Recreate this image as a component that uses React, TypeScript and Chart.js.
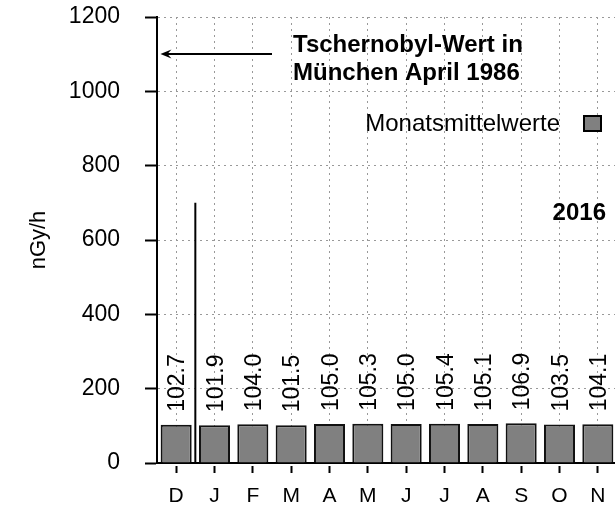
import React, { useEffect, useRef } from "react";
import { Chart, registerables } from "chart.js";

Chart.register(...registerables);

const months = ["D", "J", "F", "M", "A", "M", "J", "J", "A", "S", "O", "N"];
const monthlyMeans = [102.7, 101.9, 104.0, 101.5, 105.0, 105.3, 105.0, 105.4, 105.1, 106.9, 103.5, 104.1];
const yMin = 0;
const yMax = 1200;
const yStep = 200;
const markerIndex = 0.5;
const markerValue = 700;
const chernobylValue = 1100;
const arrowFromIndex = 2.5;
const arrowToIndex = -0.41;
const annotationLines = ["Tschernobyl-Wert in", "München April 1986"];
const legendLabel = "Monatsmittelwerte";
const yearLabel = "2016";
const yTitle = "nGy/h";

const FAMILY = '"Liberation Sans", Arial, Helvetica, sans-serif';
const BAR_FILL = "#808080";

const overlayPlugin = {
  id: "overlay",
  afterDatasetsDraw(chart: any) {
    const ctx = chart.ctx as CanvasRenderingContext2D;
    const xs = chart.scales.x;
    const ys = chart.scales.y;
    ctx.save();
    ctx.fillStyle = "#000";
    // value labels
    ctx.font = `23px ${FAMILY}`;
    const meta = chart.getDatasetMeta(0);
    meta.data.forEach((bar: any, i: number) => {
      ctx.save();
      ctx.translate(bar.x + 8, bar.y - 13);
      ctx.rotate(-Math.PI / 2);
      ctx.textAlign = "left";
      ctx.textBaseline = "alphabetic";
      ctx.fillText(monthlyMeans[i].toFixed(1), 0, 0);
      ctx.restore();
    });
    // vertical marker line
    const mx = xs.getPixelForValue(markerIndex);
    ctx.strokeStyle = "#000";
    ctx.lineWidth = 2;
    ctx.beginPath();
    ctx.moveTo(mx, ys.getPixelForValue(0));
    ctx.lineTo(mx, ys.getPixelForValue(markerValue));
    ctx.stroke();
    // arrow
    const ay = Math.round(ys.getPixelForValue(chernobylValue));
    const ax1 = xs.getPixelForValue(arrowFromIndex);
    const ax2 = xs.getPixelForValue(arrowToIndex);
    ctx.beginPath();
    ctx.moveTo(ax1, ay);
    ctx.lineTo(ax2 + 4, ay);
    ctx.stroke();
    ctx.beginPath();
    ctx.moveTo(ax2, ay);
    ctx.lineTo(ax2 + 11, ay - 4.5);
    ctx.lineTo(ax2 + 7, ay);
    ctx.lineTo(ax2 + 11, ay + 4.5);
    ctx.closePath();
    ctx.fill();
    // annotation text
    ctx.font = `bold 24px ${FAMILY}`;
    ctx.textAlign = "left";
    ctx.textBaseline = "middle";
    annotationLines.forEach((t, i) => ctx.fillText(t, 293, 45 + i * 28));
    // legend
    ctx.font = `24px ${FAMILY}`;
    ctx.textAlign = "right";
    ctx.fillText(legendLabel, 560, 124);
    ctx.fillStyle = BAR_FILL;
    ctx.fillRect(584, 116, 17, 15);
    ctx.strokeStyle = "#000";
    ctx.lineWidth = 2;
    ctx.strokeRect(584, 116, 17, 15);
    // year
    ctx.fillStyle = "#000";
    ctx.font = `bold 24px ${FAMILY}`;
    ctx.textAlign = "right";
    ctx.fillText(yearLabel, 606, 213);
    ctx.restore();
  },
};

export default function App() {
  const ref = useRef<HTMLCanvasElement | null>(null);
  useEffect(() => {
    if (!ref.current) return;
    const chart = new Chart(ref.current, {
      type: "bar",
      data: {
        labels: months,
        datasets: [
          {
            label: legendLabel,
            data: monthlyMeans,
            backgroundColor: BAR_FILL,
            borderColor: "#111",
            borderWidth: 2,
            categoryPercentage: 1,
            barPercentage: 0.81,
          },
        ],
      },
      options: {
        responsive: false,
        animation: false,
        devicePixelRatio: 1,
        layout: { padding: { top: 17, right: 8, left: 0, bottom: 0 } },
        plugins: { legend: { display: false }, tooltip: { enabled: false } },
        scales: {
          x: {
            offset: true,
            ticks: { color: "#000", font: { size: 21, family: FAMILY }, padding: 11, maxRotation: 0, autoSkip: false },
            grid: {
              offset: false,
              color: "#999",
              lineWidth: 1,
              tickLength: 10,
              tickColor: "#000",
              tickWidth: 2,
              tickBorderDash: [0, 2, 10, 100],
            },
            border: { display: true, color: "#000", width: 2, dash: [2, 4] },
            afterFit: (s: any) => {
              s.height = 46;
              s.paddingLeft = 0;
              s.paddingRight = 0;
            },
          },
          y: {
            min: yMin,
            max: yMax,
            ticks: {
              stepSize: yStep,
              color: "#000",
              font: { size: 23, family: FAMILY },
              padding: 25,
              callback: (v: any) => String(v),
            },
            grid: {
              color: "#999",
              lineWidth: 1,
              tickLength: 12,
              tickColor: "#000",
              tickWidth: 2,
              tickBorderDash: [],
            },
            border: { display: true, color: "#000", width: 2, dash: [2, 4] },
            title: {
              display: true,
              text: yTitle,
              color: "#000",
              font: { size: 22, family: FAMILY },
              padding: { top: 26, bottom: 0 },
            },
            afterFit: (s: any) => {
              s.width = 157;
              s.paddingTop = 0;
              s.paddingBottom = 0;
            },
          },
        },
      },
      plugins: [overlayPlugin],
    });
    return () => chart.destroy();
  }, []);
  return (
    <div style={{ position: "fixed", left: 0, top: 0, width: 615, height: 509, overflow: "hidden", background: "#fff" }}>
      <canvas ref={ref} width={625} height={509} style={{ display: "block", width: 625, height: 509 }} />
    </div>
  );
}
